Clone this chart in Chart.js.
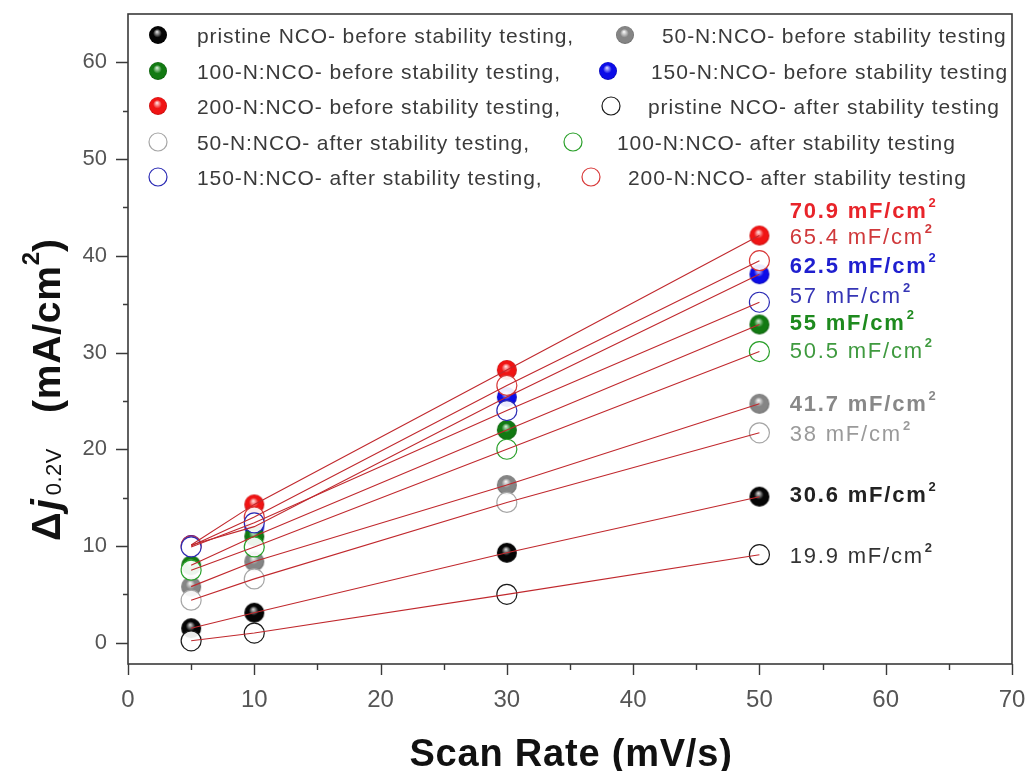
<!DOCTYPE html>
<html>
<head>
<meta charset="utf-8">
<script src="https://cdn.jsdelivr.net/npm/chart.js@4/dist/chart.umd.min.js"></script>
<style>
html,body{margin:0;padding:0;background:#fff;}
#wrap{width:1030px;height:771px;position:relative;}
</style>
</head>
<body>
<div id="wrap"><canvas id="c" width="1030" height="771"></canvas></div>
<script>
// ---------------- data ----------------
const scanRates = [5, 10, 30, 50];

const pristineBefore = [1.5, 3.1, 9.3, 15.1];
const n50Before      = [5.8, 8.4, 16.3, 24.7];
const n100Before     = [8.0, 11.0, 22.0, 32.9];
const n150Before     = [10.1, 12.0, 25.4, 38.1];
const n200Before     = [10.1, 14.3, 28.2, 42.1];
const pristineAfter  = [0.2, 1.0, 5.0, 9.1];
const n50After       = [4.4, 6.6, 14.5, 21.7];
const n100After      = [7.5, 9.9, 20.0, 30.1];
const n150After      = [9.9, 12.4, 24.0, 35.2];
const n200After      = [10.0, 13.0, 26.6, 39.5];

const seriesLabels = [
  'pristine NCO- before stability testing,',
  '50-N:NCO- before stability testing',
  '100-N:NCO- before stability testing,',
  '150-N:NCO- before stability testing',
  '200-N:NCO- before stability testing,',
  'pristine NCO- after stability testing',
  '50-N:NCO- after stability testing,',
  '100-N:NCO- after stability testing',
  '150-N:NCO- after stability testing,',
  '200-N:NCO- after stability testing'
];
const legendOrder = [0, 1, 2, 3, 4, 5, 6, 7, 8, 9];
const seriesKeys = ['pb','n50b','n100b','n150b','n200b','pa','n50a','n100a','n150a','n200a'];

const slopeValues = ['70.9', '65.4', '62.5', '57', '55', '50.5', '41.7', '38', '30.6', '19.9'];
const slopeUnit = 'mF/cm';
const xTickValues = [0, 10, 20, 30, 40, 50, 60, 70];
const yTickValues = [0, 10, 20, 30, 40, 50, 60];

// ---------------- styles ----------------
const seriesValues = [pristineBefore, n50Before, n100Before, n150Before, n200Before,
                      pristineAfter, n50After, n100After, n150After, n200After];
const FONT = '"Liberation Sans", Arial, Helvetica, sans-serif';
const sphereStyles = [
  {base:'#050505', hi:'#d0d0d0', dark:'#000000'},
  {base:'#858585', hi:'#f2f2f2', dark:'#6a6a6a'},
  {base:'#127a12', hi:'#c9e6c9', dark:'#0b5a0b'},
  {base:'#0c0ce8', hi:'#c8c8ff', dark:'#0808b0'},
  {base:'#f01414', hi:'#ffd6d6', dark:'#c00c0c'}
];
const openColors = ['#1a1a1a', '#a6a6a6', '#2aa02a', '#2a2ab4', '#d83a3a'];
const fitLineColor = '#c0282d';

const slopeColors = ['#e8242a','#d0393b','#1f1fcf','#3535b5','#1e8a1e','#3f9a3f','#888888','#9a9a9a','#222222','#333333'];
const slopeBold = [true,false,true,false,true,false,true,false,true,false];
const slopeLabelX = 52.4;
const slopeLabelY = [44.7, 42.1, 39.0, 36.0, 33.2, 30.3, 24.8, 21.7, 15.4, 9.1];

const legendSlots = [
  [158,197,35],[625,662,35],
  [158,197,71],[608,651,71],
  [158,197,106],[611,648,106],
  [158,197,142],[573,617,142],
  [158,197,177],[591,628,177]
];

function sphereSprite(st, r) {
  const c = document.createElement('canvas');
  const s = 2 * r + 2;
  c.width = s; c.height = s;
  const g = c.getContext('2d');
  const cx = s / 2, cy = s / 2;
  const grad = g.createRadialGradient(cx - 1, cy - r * 0.35, 0.5, cx, cy, r);
  grad.addColorStop(0, st.hi);
  grad.addColorStop(0.45, st.base);
  grad.addColorStop(0.85, st.base);
  grad.addColorStop(1, st.dark);
  g.fillStyle = grad;
  g.beginPath(); g.arc(cx, cy, r, 0, Math.PI * 2); g.fill();
  return c;
}
const sprites = sphereStyles.map(s => sphereSprite(s, 10));
const legendSprites = sphereStyles.map(s => sphereSprite(s, 9));

function toXY(vals) { return vals.map((v, k) => ({x: scanRates[k], y: v})); }

const datasets = [];
seriesValues.forEach((vals, i) => {
  const filled = i < 5;
  const ci = i % 5;
  datasets.push({
    label: seriesLabels[i],
    data: toXY(vals),
    showLine: false,
    pointStyle: filled ? sprites[ci] : 'circle',
    pointRadius: 10,
    pointHoverRadius: 10,
    pointBackgroundColor: filled ? sphereStyles[ci].base : 'rgba(255,255,255,0.92)',
    pointBorderColor: filled ? sphereStyles[ci].base : openColors[ci],
    pointBorderWidth: filled ? 0 : 1.2,
    order: filled ? 3 : 2
  });
});
seriesValues.forEach((vals, i) => {
  datasets.push({
    label: 'fit-' + seriesKeys[i],
    data: toXY(vals),
    showLine: true,
    borderColor: fitLineColor,
    borderWidth: 1.1,
    pointRadius: 0,
    pointHoverRadius: 0,
    fill: false,
    order: 1
  });
});

// ---------------- plugins ----------------
const framePlugin = {
  id: 'framePlugin',
  afterDatasetsDraw(chart) {
    const {ctx, chartArea: a, scales: {x, y}} = chart;
    ctx.save();
    ctx.strokeStyle = '#3a3a3a';
    ctx.lineWidth = 1.6;
    ctx.strokeRect(a.left, a.top, a.right - a.left, a.bottom - a.top);
    ctx.lineWidth = 1.4;
    ctx.beginPath();
    for (let v = 0; v <= 70; v += 5) {
      const px = Math.round(x.getPixelForValue(v)) + 0.5;
      const len = (v % 10 === 0) ? 11 : 6;
      ctx.moveTo(px, a.bottom); ctx.lineTo(px, a.bottom + len);
    }
    for (let v = 0; v <= 60; v += 5) {
      const py = Math.round(y.getPixelForValue(v)) + 0.5;
      const len = (v % 10 === 0) ? 12 : 5;
      ctx.moveTo(a.left, py); ctx.lineTo(a.left - len, py);
    }
    ctx.stroke();
    ctx.restore();
  }
};

const legendPlugin = {
  id: 'legendPlugin',
  afterDatasetsDraw(chart) {
    const {ctx, chartArea: a} = chart;
    ctx.save();
    ctx.beginPath(); ctx.rect(a.left, a.top, a.right - a.left - 1, a.bottom - a.top); ctx.clip();
    legendOrder.forEach((si, slot) => {
      const [mx, tx, ry] = legendSlots[slot];
      const ci = si % 5;
      if (si < 5) {
        const sp = legendSprites[ci];
        ctx.drawImage(sp, mx - sp.width / 2, ry - sp.height / 2);
      } else {
        ctx.beginPath();
        ctx.arc(mx, ry, 9, 0, Math.PI * 2);
        ctx.fillStyle = '#fff'; ctx.fill();
        ctx.lineWidth = 1.2; ctx.strokeStyle = openColors[ci]; ctx.stroke();
      }
      ctx.fillStyle = '#3a3a3a';
      ctx.font = '21px ' + FONT;
      ctx.letterSpacing = '0.9px';
      ctx.textAlign = 'left';
      ctx.textBaseline = 'alphabetic';
      ctx.fillText(seriesLabels[si], tx, ry + 8);
    });
    ctx.restore();
  }
};

const annotationPlugin = {
  id: 'annotationPlugin',
  afterDatasetsDraw(chart) {
    const {ctx, scales: {x, y}} = chart;
    ctx.save();
    slopeValues.forEach((v, i) => {
      const px = x.getPixelForValue(slopeLabelX);
      const py = y.getPixelForValue(slopeLabelY[i]) + 8;
      const w = slopeBold[i] ? 'bold ' : '';
      ctx.fillStyle = slopeColors[i];
      ctx.letterSpacing = '1.8px';
      ctx.font = w + '22px ' + FONT;
      ctx.textAlign = 'left';
      ctx.textBaseline = 'alphabetic';
      const txt = v + ' ' + slopeUnit;
      ctx.fillText(txt, px, py);
      const tw = ctx.measureText(txt).width;
      ctx.letterSpacing = '0px';
      ctx.font = 'bold 13px ' + FONT;
      ctx.fillText('2', px + tw + 1, py - 11);
    });
    ctx.restore();
  }
};

const titlePlugin = {
  id: 'titlePlugin',
  afterDraw(chart) {
    const {ctx} = chart;
    ctx.save();
    ctx.fillStyle = '#111';
    ctx.font = 'bold 38px ' + FONT;
    ctx.letterSpacing = '0.8px';
    ctx.textAlign = 'center';
    ctx.textBaseline = 'alphabetic';
    ctx.fillText('Scan Rate (mV/s)', 571, 766);
    const pieces = [
      {t: 'Δ', f: 'bold 40px ' + FONT, dy: 0, ls: 2},
      {t: 'j', f: 'italic bold 40px ' + FONT, dy: 0, ls: 4},
      {t: '0.2V', f: '22px ' + FONT, dy: 1, ls: 0.5},
      {t: '   (mA/cm', f: 'bold 39px ' + FONT, dy: 0, ls: 0.8},
      {t: '2', f: 'bold 24px ' + FONT, dy: -21, ls: 0},
      {t: ')', f: 'bold 39px ' + FONT, dy: 0, ls: 0}
    ];
    let total = 0;
    pieces.forEach(p => { ctx.font = p.f; ctx.letterSpacing = p.ls + 'px'; p.w = ctx.measureText(p.t).width; total += p.w; });
    ctx.translate(60, 390);
    ctx.rotate(-Math.PI / 2);
    ctx.textAlign = 'left';
    let cx = -total / 2;
    pieces.forEach(p => {
      ctx.font = p.f; ctx.letterSpacing = p.ls + 'px';
      ctx.fillText(p.t, cx, p.dy);
      cx += p.w;
    });
    ctx.restore();
  }
};

// ---------------- chart ----------------
const hiddenGrid = (len) => ({display: true, drawOnChartArea: false, drawTicks: true, tickLength: len, color: 'rgba(0,0,0,0)'});
new Chart(document.getElementById('c'), {
  type: 'scatter',
  data: {datasets},
  options: {
    responsive: false,
    animation: false,
    devicePixelRatio: 1,
    layout: {padding: {top: 14, right: 18, left: 0, bottom: 0}},
    plugins: {legend: {display: false}, tooltip: {enabled: false}, title: {display: false}},
    scales: {
      x: {
        type: 'linear', min: 0, max: 70,
        afterBuildTicks(s) { s.ticks = xTickValues.map(v => ({value: v})); },
        afterFit(s) { s.height = 107; },
        grid: hiddenGrid(22),
        border: {display: false},
        ticks: {color: '#555', font: {size: 24, family: FONT}, padding: 0, maxRotation: 0, autoSkip: false}
      },
      y: {
        type: 'linear', min: -2.2, max: 65,
        afterBuildTicks(s) { s.ticks = yTickValues.map(v => ({value: v})); },
        afterFit(s) { s.width = 128; },
        grid: hiddenGrid(21),
        border: {display: false},
        ticks: {color: '#555', font: {size: 22, family: FONT}, padding: 0, autoSkip: false}
      }
    }
  },
  plugins: [framePlugin, legendPlugin, annotationPlugin, titlePlugin]
});
</script>
</body>
</html>
